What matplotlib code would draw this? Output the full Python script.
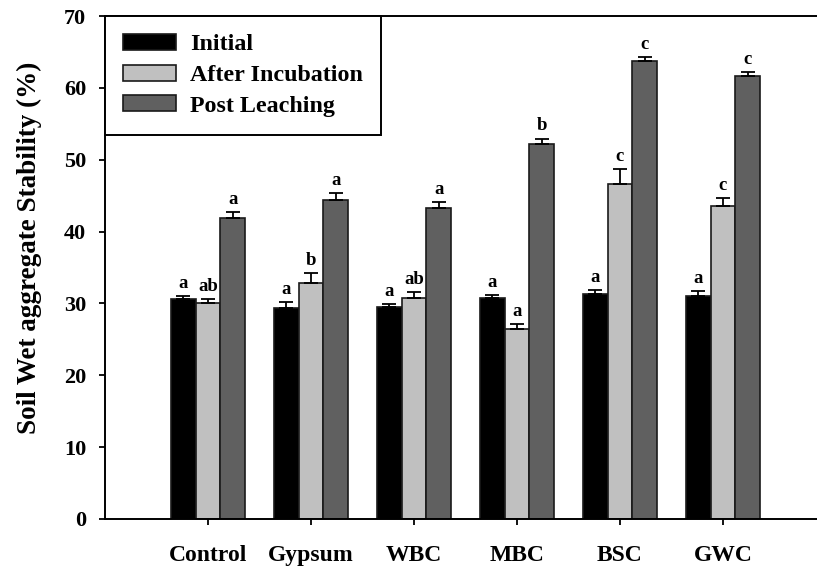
import matplotlib
matplotlib.use("Agg")
import matplotlib.pyplot as plt
import numpy as np

# data
treatments = ["Control", "Gypsum", "WBC", "MBC", "BSC", "GWC"]
series = ["Initial", "After Incubation", "Post Leaching"]

initial = [30.6, 29.3, 29.5, 30.8, 31.3, 31.1]
initial_err = [0.45, 0.9, 0.45, 0.4, 0.6, 0.6]
incubation = [30.1, 32.9, 30.7, 26.5, 46.6, 43.5]
incubation_err = [0.5, 1.35, 0.9, 0.65, 2.05, 1.2]
leaching = [41.9, 44.4, 43.3, 52.2, 63.8, 61.7]
leaching_err = [0.8, 1.0, 0.75, 0.75, 0.45, 0.55]

letters_initial = ["a", "a", "a", "a", "a", "a"]
letters_incubation = ["ab", "b", "ab", "a", "c", "c"]
letters_leaching = ["a", "a", "a", "b", "c", "c"]

colors = ["#000000", "#c0c0c0", "#606060"]

plt.rcParams["font.family"] = ["Liberation Serif", "DejaVu Serif"]
plt.rcParams["font.weight"] = "bold"

fig = plt.figure(figsize=(8.17, 5.7), dpi=100)
# axes run past the right edge of the picture, as in the reference
ax = fig.add_axes([105 / 817, 1 - 519 / 570, 721 / 817, 503 / 570])

x = np.arange(1, len(treatments) + 1)
w = 0.24
values = [initial, incubation, leaching]
errors = [initial_err, incubation_err, leaching_err]
letters = [letters_initial, letters_incubation, letters_leaching]

for i, (vals, errs, labs) in enumerate(zip(values, errors, letters)):
    pos = x + (i - 1) * w
    ax.bar(pos, vals, width=w, color=colors[i], edgecolor="#1a1a1a",
           linewidth=1.2, label=series[i], zorder=2)
    ax.errorbar(pos, vals, yerr=[np.zeros(len(vals)), errs], fmt="none",
                ecolor="black", elinewidth=1.3, capsize=5, capthick=1.3,
                zorder=3)
    for p, v, e, t in zip(pos, vals, errs, labs):
        ax.annotate(t, (p, v + e), xytext=(0, 3), textcoords="offset points",
                    ha="center", va="bottom", fontsize=13.5, fontweight="bold")

ax.set_xlim(0, 7)
ax.set_ylim(0, 70)
ax.set_yticks(np.arange(0, 71, 10))
ax.set_xticks(x)
ax.set_xticklabels(treatments)
ax.tick_params(axis="both", direction="out", length=4.5, width=1.3,
               labelsize=16)
ax.tick_params(axis="x", pad=14, labelsize=17)
ax.tick_params(axis="y", pad=9)
for s in ax.spines.values():
    s.set_linewidth(1.4)

fig.text(29 / 817, 1 - 248 / 570, "Soil Wet aggregate Stability (%)",
         rotation=90, ha="center", va="center", fontsize=19.5,
         fontweight="bold")

leg = ax.legend(loc="upper left", borderaxespad=0, fontsize=17.3,
                handlelength=2.2, handleheight=0.65, handletextpad=0.6,
                labelspacing=0.38, borderpad=0.75, fancybox=False,
                framealpha=1, edgecolor="black")
leg.get_frame().set_linewidth(1.4)

fig.savefig("out.png", dpi=100)
